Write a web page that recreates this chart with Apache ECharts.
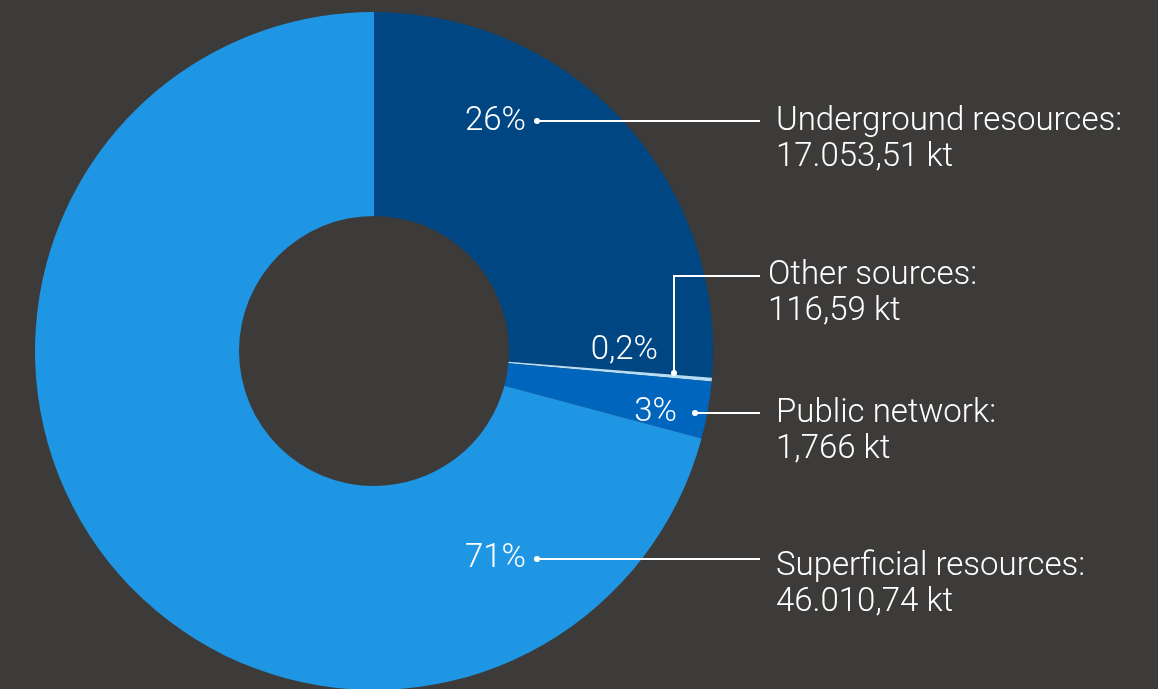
<!DOCTYPE html>
<html>
<head>
<meta charset="utf-8">
<style>
  html, body { margin: 0; padding: 0; background: #3c3b3a; }
  #chart { width: 1158px; height: 689px; }
</style>
<script src="https://cdn.jsdelivr.net/npm/echarts@6/dist/echarts.min.js"></script>
</head>
<body>
<div id="chart"></div>
<script>
// Water withdrawal by source, in kilotonnes
const sourceNames = ['Underground resources', 'Other sources', 'Public network', 'Superficial resources'];
const sourceValues = [17053.51, 116.59, 1766, 46010.74];
const valueLabels = ['17.053,51 kt', '116,59 kt', '1,766 kt', '46.010,74 kt'];
const sliceColors = ['#004682', '#b5ddf6', '#0066bd', '#1e96e3'];

// Callout layout: where each percentage sits, the leader line path, and the caption block
const callouts = [
  { pct: [526, 122], line: [[537, 121], [760, 121]], text: [776, 122] },
  { pct: [658, 351], line: [[674, 373], [674, 276], [760, 276]], text: [768, 276] },
  { pct: [677, 413], line: [[695, 413], [760, 413]], text: [776, 414] },
  { pct: [526, 559], line: [[537, 559], [760, 559]], text: [776, 567] }
];

const FONT = 'Roboto, "DejaVu Sans", sans-serif';
const total = sourceValues.reduce((a, b) => a + b, 0);

function pctText(v) {
  const p = v / total * 100;
  if (p < 1) return p.toFixed(1).replace('.', ',') + '%';
  return Math.round(p) + '%';
}

const graphics = [];
callouts.forEach((c, i) => {
  graphics.push({
    type: 'polyline', silent: true, z: 100,
    shape: { points: c.line },
    style: { stroke: '#ffffff', lineWidth: 2, fill: null }
  });
  graphics.push({
    type: 'circle', silent: true, z: 101,
    shape: { cx: c.line[0][0], cy: c.line[0][1], r: 3 },
    style: { fill: '#ffffff' }
  });
  graphics.push({
    type: 'text', silent: true, z: 101,
    x: c.pct[0], y: c.pct[1],
    style: {
      text: pctText(sourceValues[i]),
      fill: '#ffffff', font: '300 33px ' + FONT,
      align: 'right', verticalAlign: 'middle'
    }
  });
  graphics.push({
    type: 'text', silent: true, z: 101,
    x: c.text[0], y: c.text[1] - 18,
    style: {
      text: sourceNames[i] + ':\n' + valueLabels[i],
      fill: '#ffffff', font: '300 33px ' + FONT,
      lineHeight: 36,
      align: 'left', verticalAlign: 'top'
    }
  });
});

const chart = echarts.init(document.getElementById('chart'), null, { renderer: 'canvas' });
chart.setOption({
  backgroundColor: '#3c3b3a',
  animation: false,
  series: [{
    type: 'pie',
    center: [374, 351],
    radius: [135, 339],
    startAngle: 90,
    clockwise: true,
    silent: true,
    z: 1,
    label: { show: false },
    labelLine: { show: false },
    emphasis: { disabled: true },
    data: sourceNames.map((n, i) => ({
      name: n, value: sourceValues[i],
      itemStyle: { color: sliceColors[i] }
    }))
  }],
  graphic: { elements: graphics }
});
</script>
</body>
</html>
